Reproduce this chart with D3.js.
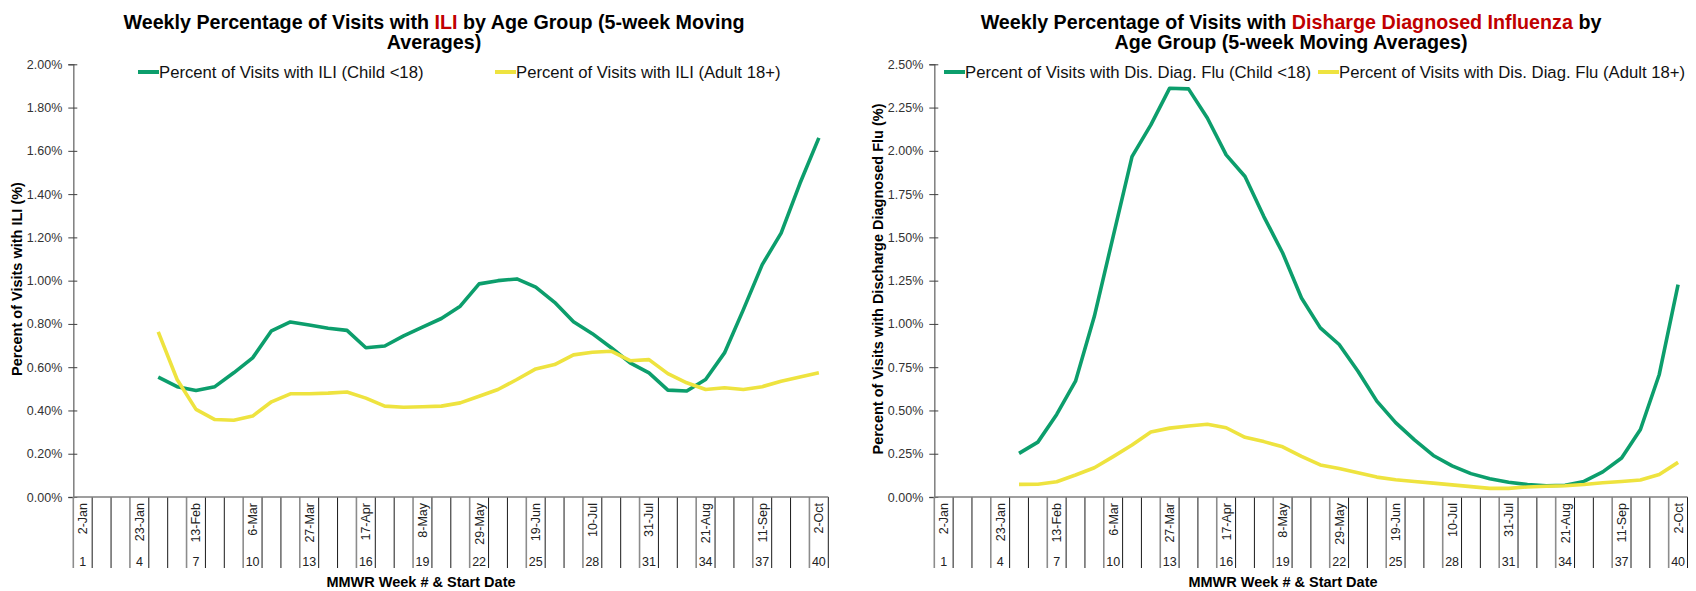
<!DOCTYPE html>
<html>
<head>
<meta charset="utf-8">
<script src="https://cdn.jsdelivr.net/npm/d3@7"></script>
<style>
  body { margin: 0; background: #fff; }
  svg { display: block; font-family: "Liberation Sans", Arial, sans-serif; }
</style>
</head>
<body>
<svg id="chart" width="1696" height="591"></svg>
<script>
// MMWR weeks shown on the category axis
var weeks = [1,2,3,4,5,6,7,8,9,10,11,12,13,14,15,16,17,18,19,20,
             21,22,23,24,25,26,27,28,29,30,31,32,33,34,35,36,37,38,39,40];
var labeledWeeks = [1,4,7,10,13,16,19,22,25,28,31,34,37,40];
var labeledDates = ["2-Jan","23-Jan","13-Feb","6-Mar","27-Mar","17-Apr","8-May",
                    "29-May","19-Jun","10-Jul","31-Jul","21-Aug","11-Sep","2-Oct"];

// weeks that carry a value (5-week moving averages start at week 5)
var dataWeeks = [5,6,7,8,9,10,11,12,13,14,15,16,17,18,19,20,21,22,
                 23,24,25,26,27,28,29,30,31,32,33,34,35,36,37,38,39,40];

// Percent of visits with ILI
var iliChild = [0.554,0.51,0.492,0.51,0.574,0.643,0.768,0.809,0.795,0.78,0.77,0.69,
                0.698,0.745,0.785,0.825,0.882,0.985,1.0,1.008,0.97,0.90,0.81,0.755,
                0.69,0.62,0.574,0.494,0.49,0.543,0.666,0.866,1.074,1.22,1.45,1.66];
var iliAdult = [0.763,0.543,0.405,0.358,0.355,0.374,0.44,0.477,0.477,0.48,0.485,0.457,
                0.42,0.415,0.417,0.42,0.435,0.466,0.497,0.543,0.592,0.612,0.657,0.669,
                0.674,0.63,0.635,0.57,0.528,0.497,0.505,0.497,0.51,0.535,0.555,0.574];

// Percent of visits with discharge diagnosed influenza
var fluChild = [0.252,0.317,0.477,0.669,1.044,1.506,1.967,2.15,2.362,2.358,2.19,1.977,
                1.852,1.62,1.41,1.15,0.977,0.881,0.727,0.554,0.43,0.33,0.24,0.18,
                0.135,0.105,0.085,0.072,0.065,0.068,0.09,0.145,0.225,0.39,0.708,1.227];
var fluAdult = [0.073,0.074,0.088,0.127,0.169,0.233,0.30,0.375,0.398,0.41,0.42,0.40,
                0.345,0.32,0.29,0.235,0.185,0.165,0.14,0.115,0.10,0.09,0.08,0.07,
                0.06,0.05,0.05,0.058,0.062,0.065,0.072,0.082,0.09,0.098,0.13,0.20];

var iliTicks = [0,0.2,0.4,0.6,0.8,1.0,1.2,1.4,1.6,1.8,2.0];
var fluTicks = [0,0.25,0.5,0.75,1.0,1.25,1.5,1.75,2.0,2.25,2.5];

var GREEN = "#0c9e6c", YELLOW = "#eee33f", RED = "#c00000";

var svg = d3.select("#chart");

function drawPanel(cfg) {
    var g = svg.append("g");
    var top = 64.3, bottom = 497, labelBottom = 568;

    var x = d3.scaleBand().domain(weeks).range([cfg.left, cfg.right]).padding(0);
    var y = d3.scaleLinear().domain([0, cfg.yMax]).range([bottom, top]);
    var cx = function (w) { return x(w) + x.bandwidth() / 2; };

    // title (two lines, part of first line in red)
    cfg.title.forEach(function (parts, li) {
        var t = g.append("text")
            .attr("x", cfg.titleX)
            .attr("y", 28.5 + li * 20.5)
            .attr("text-anchor", "middle")
            .attr("font-size", "19.7px")
            .attr("font-weight", "bold")
            .attr("fill", "#000");
        parts.forEach(function (p) {
            t.append("tspan").attr("fill", p.red ? RED : "#000").text(p.text);
        });
    });

    // y axis
    var yAxis = g.append("g")
        .attr("transform", "translate(" + cfg.left + ",0)")
        .call(d3.axisLeft(y).tickValues(cfg.ticks).tickSize(5).tickPadding(6)
            .tickFormat(function (d) { return d3.format(".2f")(d) + "%"; }));
    yAxis.select(".domain").attr("stroke", "#7f7f7f").attr("stroke-width", 1.5);
    yAxis.selectAll(".tick line").attr("x1", 4).attr("x2", -5).attr("stroke", "#404040");
    yAxis.selectAll(".tick text").attr("font-size", "12.5px").attr("fill", "#333")
        .attr("font-family", "Liberation Sans, Arial, sans-serif");

    g.append("text")
        .attr("transform", "translate(" + cfg.yTitleX + "," + 279 + ") rotate(-90)")
        .attr("text-anchor", "middle")
        .attr("font-size", "14.5px")
        .attr("font-weight", "bold")
        .attr("dy", "0.35em")
        .text(cfg.yTitle);

    // category axis: boundary lines, rotated dates, week numbers
    var edges = weeks.map(function (w) { return x(w); }).concat([cfg.right]);
    g.selectAll(".edge").data(edges).enter().append("line")
        .attr("x1", function (d) { return d; })
        .attr("x2", function (d) { return d; })
        .attr("y1", bottom).attr("y2", labelBottom)
        .attr("stroke", function (d, i) { return i % 3 === 0 ? "#8c8c8c" : "#1a1a1a"; })
        .attr("stroke-width", function (d, i) { return i % 3 === 0 ? 1.6 : 1; });

    g.append("line")
        .attr("x1", cfg.left).attr("x2", cfg.right)
        .attr("y1", bottom).attr("y2", bottom)
        .attr("stroke", "#7f7f7f").attr("stroke-width", 1.5);

    g.selectAll(".dateLbl").data(labeledWeeks).enter().append("text")
        .attr("transform", function (w) { return "translate(" + (cx(w) + 4.5) + "," + 503 + ") rotate(-90)"; })
        .attr("text-anchor", "end")
        .attr("font-size", "12.5px")
        .attr("fill", "#222")
        .text(function (w, i) { return labeledDates[i]; });

    g.selectAll(".numLbl").data(labeledWeeks).enter().append("text")
        .attr("x", function (w) { return cx(w); })
        .attr("y", 566)
        .attr("text-anchor", "middle")
        .attr("font-size", "12.5px")
        .attr("fill", "#222")
        .text(function (w) { return w; });

    g.append("text")
        .attr("x", cfg.xTitleX).attr("y", 587)
        .attr("text-anchor", "middle")
        .attr("font-size", "14.5px")
        .attr("font-weight", "bold")
        .text("MMWR Week # & Start Date");

    // lines
    var line = d3.line()
        .x(function (d) { return cx(d.w); })
        .y(function (d) { return y(d.v); });

    cfg.series.forEach(function (s) {
        var pts = dataWeeks.map(function (w, i) { return { w: w, v: s.values[i] }; });
        g.append("path")
            .datum(pts)
            .attr("fill", "none")
            .attr("stroke", s.color)
            .attr("stroke-width", 3.6)
            .attr("stroke-linejoin", "round")
            .attr("d", line);
    });

    // legend
    cfg.series.forEach(function (s) {
        g.append("line")
            .attr("x1", s.legendX).attr("x2", s.legendX + 21)
            .attr("y1", 72).attr("y2", 72)
            .attr("stroke", s.color).attr("stroke-width", 4);
        g.append("text")
            .attr("x", s.legendX + 21).attr("y", 72)
            .attr("dy", "0.35em")
            .attr("font-size", "16.7px")
            .attr("fill", "#111")
            .text(s.name);
    });
}

drawPanel({
    left: 73.3, right: 828.3, yMax: 2.0, ticks: iliTicks,
    titleX: 434, xTitleX: 421, yTitleX: 17,
    title: [[{ text: "Weekly Percentage of Visits with " }, { text: "ILI", red: true },
             { text: " by Age Group (5-week Moving" }],
            [{ text: "Averages)" }]],
    yTitle: "Percent of Visits with ILI (%)",
    series: [
        { name: "Percent of Visits with ILI (Child <18)", values: iliChild, color: GREEN, legendX: 138 },
        { name: "Percent of Visits with ILI (Adult 18+)", values: iliAdult, color: YELLOW, legendX: 495 }
    ]
});

drawPanel({
    left: 934.3, right: 1687.5, yMax: 2.5, ticks: fluTicks,
    titleX: 1291, xTitleX: 1283, yTitleX: 878,
    title: [[{ text: "Weekly Percentage of Visits with " },
             { text: "Disharge Diagnosed Influenza", red: true }, { text: " by" }],
            [{ text: "Age Group (5-week Moving Averages)" }]],
    yTitle: "Percent of Visits with Discharge Diagnosed Flu (%)",
    series: [
        { name: "Percent of Visits with Dis. Diag. Flu (Child <18)", values: fluChild, color: GREEN, legendX: 944 },
        { name: "Percent of Visits with Dis. Diag. Flu (Adult 18+)", values: fluAdult, color: YELLOW, legendX: 1318 }
    ]
});
</script>
</body>
</html>
